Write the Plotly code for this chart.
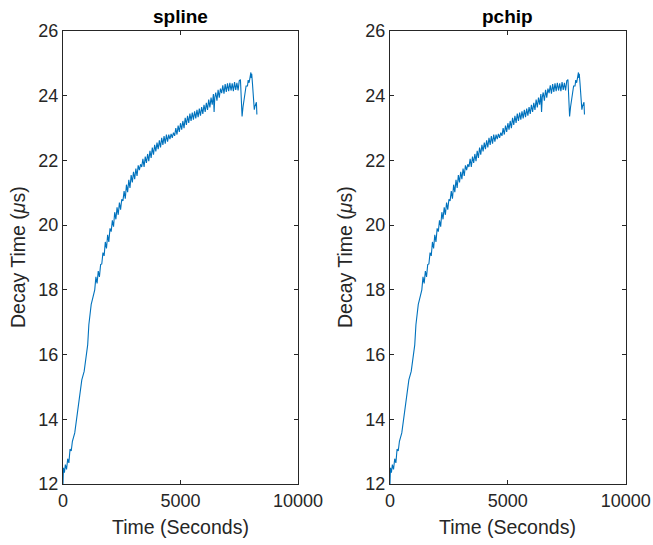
import plotly.graph_objects as go
from plotly.subplots import make_subplots

time_s = [0, 20, 60, 100, 150, 200, 250, 300, 350, 400, 500, 600, 700, 800, 900, 1000,
          1050, 1100, 1150, 1200, 1250, 1300, 1350, 1400, 1450, 1500, 1550, 1600, 1650,
          1700, 1750, 1800, 1850, 1900, 1950, 2000, 2050, 2100, 2150, 2200, 2250, 2300,
          2350, 2400, 2450, 2500, 2550, 2600, 2650, 2700, 2750, 2800, 2850, 2900, 2950,
          3000, 3050, 3100, 3150, 3200, 3250, 3300, 3350, 3400, 3450, 3500, 3550, 3600,
          3650, 3700, 3750, 3800, 3850, 3900, 3950, 4000, 4050, 4100, 4150, 4200, 4250,
          4300, 4350, 4400, 4450, 4500, 4550, 4600, 4650, 4700, 4750, 4800, 4850, 4900,
          4950, 5000, 5050, 5100, 5150, 5200, 5250, 5300, 5350, 5400, 5450, 5500, 5550,
          5600, 5650, 5700, 5750, 5800, 5850, 5900, 5950, 6000, 6050, 6100, 6150, 6200,
          6250, 6300, 6350, 6400, 6430, 6460, 6500, 6550, 6600, 6650, 6700, 6750, 6800,
          6850, 6900, 6950, 7000, 7050, 7100, 7150, 7200, 7250, 7300, 7350, 7400, 7450,
          7500, 7550, 7580, 7620, 7660, 7710, 7750, 7790, 7850, 7880, 7920, 7960, 7995,
          8010, 8030, 8060, 8090, 8120, 8140, 8170, 8200, 8230, 8250]

decay_us = [12.00, 12.50, 12.35, 12.60, 12.45, 12.78, 12.65, 13.08, 13.02, 13.32, 13.58,
            14.08, 14.62, 15.22, 15.48, 15.98, 16.30, 16.92, 17.28, 17.55, 17.70, 17.90,
            18.00, 18.40, 18.20, 18.58, 18.40, 18.78, 18.80, 19.15, 19.05, 19.48, 19.28,
            19.70, 19.48, 19.90, 19.80, 20.15, 19.95, 20.40, 20.18, 20.55, 20.32, 20.70,
            20.48, 20.80, 20.75, 21.05, 20.82, 21.25, 21.02, 21.40, 21.15, 21.55, 21.32,
            21.65, 21.42, 21.75, 21.52, 21.85, 21.70, 21.88, 21.80, 22.05, 21.80, 22.12,
            21.92, 22.20, 21.98, 22.30, 22.08, 22.40, 22.18, 22.48, 22.28, 22.55, 22.35,
            22.62, 22.40, 22.70, 22.48, 22.75, 22.52, 22.80, 22.58, 22.80, 22.66, 22.82,
            22.70, 22.86, 22.76, 23.00, 22.80, 23.08, 22.88, 23.15, 22.95, 23.22, 23.00,
            23.32, 23.10, 23.38, 23.16, 23.45, 23.22, 23.48, 23.26, 23.52, 23.30, 23.56,
            23.34, 23.60, 23.38, 23.65, 23.44, 23.72, 23.50, 23.78, 23.56, 23.88, 23.64,
            23.94, 23.72, 24.05, 23.50, 23.95, 24.10, 23.85, 24.18, 23.94, 24.22, 24.08,
            24.32, 24.06, 24.36, 24.12, 24.38, 24.14, 24.40, 24.16, 24.38, 24.14, 24.42,
            24.18, 24.40, 24.16, 24.46, 24.50, 24.10, 23.36, 23.65, 23.90, 24.15, 24.30,
            24.30, 24.48, 24.40, 24.65, 24.72, 24.55, 24.68, 24.40, 24.15, 23.75, 23.57,
            23.68, 23.72, 23.80, 23.42]

panel_titles = ["spline", "pchip"]
x_ticks = [0, 5000, 10000]
y_ticks = [12, 14, 16, 18, 20, 22, 24, 26]
x_label = "Time (Seconds)"
y_label = "Decay Time (<i>μ</i>s)"

W, H = 653, 545
FONT = "Liberation Sans, Arial, Helvetica, sans-serif"
AX = "#262626"
LINE = "#0072BD"

fig = make_subplots(rows=1, cols=2)

x_domains = [[63 / W, 298 / W], [390 / W, 625.7 / W]]
y_domain = [1 - 484 / H, 1 - 31 / H]

for i in range(2):
    fig.add_trace(
        go.Scatter(x=time_s, y=decay_us, mode="lines",
                   line=dict(color=LINE, width=1.1), showlegend=False),
        row=1, col=i + 1)
    axis_common = dict(
        showline=True, linecolor=AX, linewidth=1, mirror="ticks",
        ticks="inside", ticklen=4, tickwidth=1, tickcolor=AX,
        showgrid=False, zeroline=False,
        tickfont=dict(family=FONT, size=18, color=AX),
        automargin=False,
    )
    fig.update_xaxes(domain=x_domains[i], range=[0, 10000], tickvals=x_ticks,
                     ticktext=[str(v) for v in x_ticks], row=1, col=i + 1,
                     **axis_common)
    fig.update_yaxes(domain=y_domain, range=[12, 26], tickvals=y_ticks,
                     ticktext=[str(v) for v in y_ticks], row=1, col=i + 1,
                     **axis_common)

    cx = (x_domains[i][0] + x_domains[i][1]) / 2
    fig.add_annotation(text="<b>" + panel_titles[i] + "</b>", x=cx, y=1 - 16 / H,
                       xref="paper", yref="paper", showarrow=False,
                       xanchor="center", yanchor="middle",
                       font=dict(family=FONT, size=19, color="#000000"))
    fig.add_annotation(text=x_label, x=cx, y=1 - 527 / H,
                       xref="paper", yref="paper", showarrow=False,
                       xanchor="center", yanchor="middle",
                       font=dict(family=FONT, size=19.5, color=AX))
    fig.add_annotation(text=y_label, x=x_domains[i][0] - 45 / W,
                       y=1 - 257 / H, xref="paper", yref="paper",
                       showarrow=False, textangle=-90,
                       xanchor="center", yanchor="middle",
                       font=dict(family=FONT, size=19.5, color=AX))

fig.update_layout(
    width=W, height=H,
    margin=dict(l=0, r=0, t=0, b=0),
    paper_bgcolor="white", plot_bgcolor="white",
    font=dict(family=FONT),
)

fig.write_html("out.html")
